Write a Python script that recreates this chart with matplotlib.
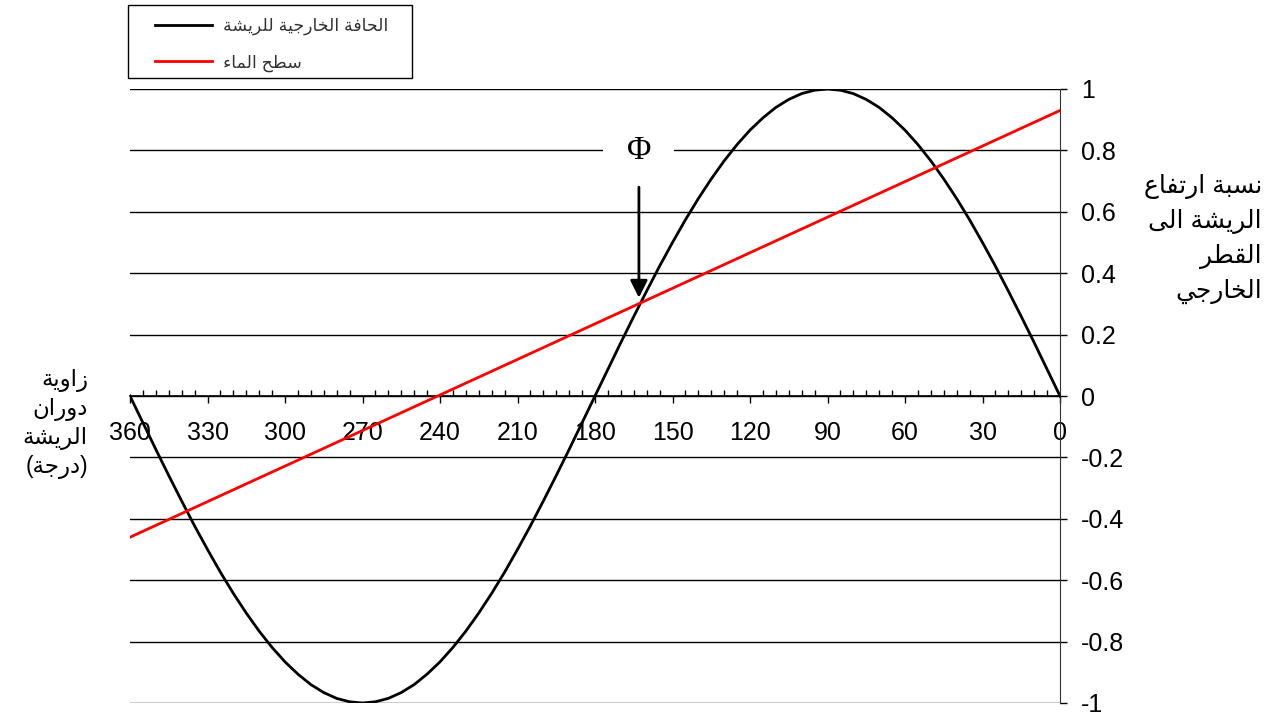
import numpy as np
import matplotlib.pyplot as plt
from matplotlib.patches import Rectangle
from matplotlib.ticker import MultipleLocator, FixedLocator, FuncFormatter

plt.rcParams['font.family'] = ['Liberation Sans', 'DejaVu Sans']
plt.rcParams['axes.unicode_minus'] = False

# blade outer edge, read every 5 degrees
angle = list(range(0, 361, 5))
edge = [0.000, 0.087, 0.174, 0.259, 0.342, 0.423, 0.500, 0.574, 0.643, 0.707,
        0.766, 0.819, 0.866, 0.906, 0.940, 0.966, 0.985, 0.996, 1.000,
        0.996, 0.985, 0.966, 0.940, 0.906, 0.866, 0.819, 0.766, 0.707,
        0.643, 0.574, 0.500, 0.423, 0.342, 0.259, 0.174, 0.087, 0.000,
        -0.087, -0.174, -0.259, -0.342, -0.423, -0.500, -0.574, -0.643, -0.707,
        -0.766, -0.819, -0.866, -0.906, -0.940, -0.966, -0.985, -0.996, -1.000,
        -0.996, -0.985, -0.966, -0.940, -0.906, -0.866, -0.819, -0.766, -0.707,
        -0.643, -0.574, -0.500, -0.423, -0.342, -0.259, -0.174, -0.087, 0.000]

# water surface (straight line)
water_angle = [0, 360]
water_level = [0.93, -0.46]

y_ticks = [-1, -0.8, -0.6, -0.4, -0.2, 0, 0.2, 0.4, 0.6, 0.8, 1]

phi_angle = 163
phi_top = 0.68
phi_tip = 0.32

legend_labels = ['الحافة الخارجية للريشة', 'سطح الماء']
ylabel_lines = ['نسبة ارتفاع', 'الريشة الى', 'القطر', 'الخارجي']
xlabel_lines = ['زاوية', 'دوران', 'الريشة', '(درجة)']

# matplotlib has no arabic shaping, so pick presentation forms by hand
ISO = {'ء': (0xFE80, 1), 'ا': (0xFE8D, 2), 'ب': (0xFE8F, 4), 'ة': (0xFE93, 2),
       'ت': (0xFE95, 4), 'ج': (0xFE9D, 4), 'ح': (0xFEA1, 4), 'خ': (0xFEA5, 4),
       'د': (0xFEA9, 2), 'ر': (0xFEAD, 2), 'ز': (0xFEAF, 2), 'س': (0xFEB1, 4),
       'ش': (0xFEB5, 4), 'ط': (0xFEC1, 4), 'ع': (0xFEC9, 4), 'ف': (0xFED1, 4),
       'ق': (0xFED5, 4), 'ل': (0xFEDD, 4), 'م': (0xFEE1, 4), 'ن': (0xFEE5, 4),
       'و': (0xFEED, 2), 'ى': (0xFEEF, 2), 'ي': (0xFEF1, 4)}


def shape(text):
    out = []
    for i, ch in enumerate(text):
        if ch not in ISO:
            out.append(ch)
            continue
        base, n = ISO[ch]
        prev = text[i - 1] if i > 0 else ''
        nxt = text[i + 1] if i + 1 < len(text) else ''
        join_prev = n > 1 and prev in ISO and ISO[prev][1] == 4
        join_next = n == 4 and nxt in ISO and ISO[nxt][1] > 1
        if join_prev and join_next:
            off = 3
        elif join_next:
            off = 2
        elif join_prev:
            off = 1
        else:
            off = 0
        out.append(chr(base + off))
    vis = ''.join(reversed(out))
    return vis.translate(str.maketrans('()', ')('))


W, H = 1283, 720
fig = plt.figure(figsize=(W / 100, H / 100), dpi=100)
ax = fig.add_axes([130 / W, 17 / H, 930 / W, 614 / H])

ax.plot(angle, edge, color='black', lw=2, label=shape(legend_labels[0]), zorder=3)
ax.plot(water_angle, water_level, color='red', lw=2, label=shape(legend_labels[1]), zorder=3)

ax.set_xlim(360, 0)
ax.set_ylim(-1, 1)

ax.spines['top'].set_visible(False)
ax.spines['left'].set_visible(False)
ax.spines['bottom'].set_position(('data', 0))
ax.spines['bottom'].set_linewidth(1.2)
ax.spines['right'].set_color('#333333')

ax.xaxis.set_major_locator(MultipleLocator(30))
ax.xaxis.set_minor_locator(MultipleLocator(5))
ax.tick_params(axis='x', which='major', direction='out', length=5, width=1, pad=13, labelsize=18)
ax.tick_params(axis='x', which='minor', direction='in', length=4, width=1)

ax.yaxis.tick_right()
ax.yaxis.set_major_locator(FixedLocator(y_ticks))
ax.yaxis.set_major_formatter(FuncFormatter(lambda v, p: f'{round(v, 1):g}'))
ax.tick_params(axis='y', direction='out', length=5, width=1, pad=10, labelsize=18)
ax.yaxis.grid(True, color='black', lw=1)
ax.set_axisbelow(True)

# phi marker
ax.text(phi_angle, 0.8, 'Φ', family='Liberation Serif', fontsize=24, ha='center', va='center',
        bbox=dict(boxstyle='square,pad=0.7', fc='white', ec='none'), zorder=4)
ax.annotate('', xy=(phi_angle, phi_tip), xytext=(phi_angle, phi_top),
            arrowprops=dict(arrowstyle='-|>', color='black', lw=2, mutation_scale=26,
                            shrinkA=0, shrinkB=0), zorder=5)

# legend above the plot, box drawn separately
fig.patches.append(Rectangle((128 / W, 1 - 78 / H), 284 / W, 73 / H, transform=fig.transFigure,
                             fill=False, ec='black', lw=1))
leg = fig.legend(loc='upper left', bbox_to_anchor=(155 / W, 1 - 18 / H), frameon=False,
                 fontsize=12.5, handlelength=3.3, handletextpad=0.6, labelspacing=1.1,
                 borderpad=0, borderaxespad=0)
for t in leg.get_texts():
    t.set_color('#333333')

fig.text(1262 / W, 1 - 239 / H, '\n'.join(shape(s) for s in ylabel_lines), ha='right', va='center',
         multialignment='right', fontsize=18, linespacing=1.52)
fig.text(88 / W, 1 - 424 / H, '\n'.join(shape(s) for s in xlabel_lines), ha='right', va='center',
         multialignment='right', fontsize=16.5, linespacing=1.27)

fig.savefig('out.png', dpi=100)
